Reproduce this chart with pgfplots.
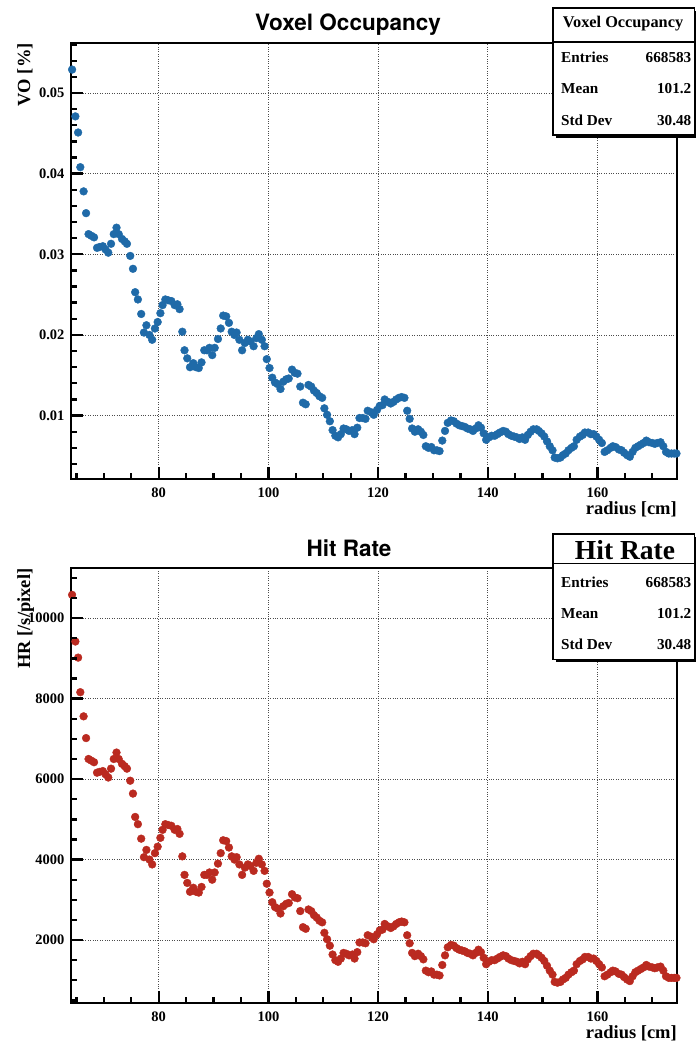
\documentclass[border=0pt]{standalone}
\usepackage{fontspec}
\setmainfont{Liberation Serif}
\newfontfamily\heros{TeX Gyre Heros}
\usepackage{pgfplots}
\usepackage{pgfplotstable}
\pgfplotsset{compat=1.18}
\definecolor{voblue}{RGB}{31,106,168}
\definecolor{hrred}{RGB}{186,42,32}

\pgfplotstableread{
x vo hr
64.2 0.0529 10580
64.8 0.0471 9420
65.3 0.0451 9020
65.7 0.0408 8160
66.3 0.0378 7560
66.75 0.0351 7020
67.2 0.0325 6500
67.7 0.0323 6460
68.2 0.0321 6420
68.75 0.0308 6160
69.2 0.0309 6180
69.8 0.0310 6200
70.3 0.0306 6120
70.8 0.0302 6040
71.3 0.0313 6260
71.8 0.0325 6500
72.3 0.0333 6660
72.7 0.0325 6500
73.3 0.0319 6380
73.8 0.0316 6320
74.2 0.0313 6260
74.8 0.0298 5960
75.3 0.0282 5640
75.7 0.0253 5060
76.2 0.0244 4880
76.8 0.0226 4520
77.3 0.0203 4060
77.75 0.0212 4240
78.3 0.0200 4000
78.8 0.0194 3880
79.3 0.0208 4160
79.8 0.0216 4320
80.3 0.0227 4540
80.7 0.0237 4740
81.2 0.0244 4880
81.7 0.0243 4860
82.3 0.0242 4840
82.9 0.0237 4740
83.4 0.0238 4760
83.8 0.0232 4640
84.3 0.0204 4080
84.7 0.0181 3620
85.2 0.0171 3420
85.7 0.0160 3200
86.3 0.0165 3300
86.8 0.0160 3200
87.3 0.0159 3180
87.8 0.0166 3320
88.3 0.0181 3620
88.8 0.0181 3620
89.25 0.0184 3680
89.75 0.0175 3500
90.2 0.0184 3680
90.8 0.0195 3900
91.3 0.0208 4160
91.75 0.0224 4480
92.3 0.0223 4460
92.8 0.0215 4300
93.3 0.0204 4080
93.8 0.0200 4000
94.2 0.0203 4060
94.7 0.0194 3880
95.2 0.0181 3620
95.7 0.0190 3800
96.25 0.0194 3880
96.7 0.0192 3840
97.3 0.0186 3720
97.8 0.0196 3920
98.25 0.0201 4020
98.8 0.0194 3880
99.3 0.0186 3720
99.7 0.0170 3400
100.2 0.0159 3180
100.7 0.0147 2940
101.2 0.0141 2820
101.7 0.0139 2780
102.2 0.0133 2660
102.7 0.0142 2840
103.25 0.0145 2900
103.7 0.0146 2920
104.3 0.0157 3140
104.8 0.0153 3060
105.3 0.0152 3040
105.8 0.0136 2720
106.3 0.0116 2320
106.8 0.0114 2280
107.3 0.0138 2760
107.8 0.0136 2720
108.3 0.0131 2620
108.8 0.0128 2560
109.3 0.0124 2480
109.8 0.0122 2440
110.2 0.0109 2180
110.7 0.0101 2020
111.2 0.0093 1860
111.7 0.0082 1640
112.2 0.0075 1500
112.7 0.0073 1460
113.2 0.0077 1540
113.7 0.0084 1680
114.2 0.0083 1660
114.7 0.0081 1620
115.3 0.0082 1640
115.7 0.0077 1540
116.2 0.0085 1700
116.6 0.0097 1940
117.2 0.0097 1940
117.7 0.0096 1920
118.1 0.0106 2120
118.8 0.0104 2080
119.2 0.0101 2020
119.8 0.0107 2140
120.3 0.0112 2240
120.8 0.0113 2260
121.2 0.0120 2400
121.8 0.0117 2340
122.3 0.0115 2300
122.8 0.0117 2340
123.3 0.0120 2400
123.8 0.0122 2440
124.3 0.0123 2460
124.8 0.0122 2440
125.3 0.0106 2120
125.75 0.0096 1920
126.2 0.0084 1680
126.7 0.0080 1600
127.3 0.0083 1660
127.8 0.0080 1600
128.25 0.0076 1520
128.7 0.0062 1240
129.2 0.0060 1200
129.7 0.0061 1220
130.2 0.0057 1140
130.7 0.0057 1140
131.2 0.0056 1120
131.7 0.0069 1380
132.2 0.0081 1620
132.7 0.0091 1820
133.3 0.0094 1880
133.8 0.0093 1860
134.3 0.0090 1800
134.8 0.0088 1760
135.3 0.0087 1740
135.8 0.0086 1720
136.3 0.0084 1680
136.8 0.0083 1660
137.3 0.0081 1620
137.8 0.0084 1680
138.3 0.0088 1760
138.75 0.0085 1700
139.25 0.0078 1560
139.7 0.0070 1400
140.2 0.0073 1460
140.7 0.0075 1500
141.25 0.0075 1500
141.75 0.0077 1540
142.2 0.0079 1580
142.8 0.0081 1620
143.3 0.0080 1600
143.75 0.0077 1540
144.3 0.0075 1500
144.8 0.0074 1480
145.3 0.0073 1460
145.8 0.0071 1420
146.3 0.0073 1460
146.8 0.0070 1400
147.3 0.0076 1520
147.8 0.0080 1600
148.3 0.0083 1660
148.9 0.0083 1660
149.3 0.0081 1620
149.8 0.0078 1560
150.3 0.0074 1480
150.8 0.0068 1360
151.3 0.0062 1240
151.8 0.0057 1140
152.2 0.0048 960
152.7 0.0047 940
153.25 0.0048 960
153.7 0.0051 1020
154.2 0.0053 1060
154.7 0.0057 1140
155.25 0.0060 1200
155.7 0.0062 1240
156.2 0.0070 1400
156.8 0.0074 1480
157.3 0.0076 1520
157.7 0.0079 1580
158.3 0.0079 1580
158.8 0.0077 1540
159.3 0.0077 1540
159.8 0.0074 1480
160.3 0.0070 1400
160.8 0.0066 1320
161.3 0.0055 1100
161.8 0.0057 1140
162.4 0.0060 1200
162.8 0.0062 1240
163.3 0.0061 1220
163.9 0.0058 1160
164.4 0.0057 1140
164.85 0.0054 1080
165.4 0.0051 1020
165.9 0.0049 980
166.4 0.0055 1100
166.9 0.0060 1200
167.4 0.0062 1240
167.9 0.0064 1280
168.4 0.0066 1320
168.9 0.0069 1380
169.4 0.0067 1340
170.0 0.0066 1320
170.45 0.0065 1300
170.9 0.0066 1320
171.5 0.0067 1340
172.0 0.0062 1240
172.5 0.0055 1100
173.0 0.0053 1060
173.5 0.0053 1060
174.0 0.0053 1060
174.4 0.0053 1060
}\data

\pgfplotsset{rootstyle/.style={
  scale only axis, width=606pt,
  xmin=64, xmax=174.5,
  xtick={80,100,120,140,160}, xticklabels={80,100,120,140,160},
  minor xtick={65,70,75,85,90,95,105,110,115,125,130,135,145,150,155,165,170},
  xtick pos=bottom, ytick pos=left, tick align=inside,
  major tick length=12pt, minor tick length=6pt,
  every tick/.style={black, solid, line width=2.3pt},
  axis line style={line width=2.3pt},
  xmajorgrids, ymajorgrids,
  major grid style={dotted, black!70, line width=0.7pt},
  tick label style={font=\fontsize{14.5}{14.5}\selectfont\bfseries},
  xticklabel style={yshift=-5pt},
  yticklabel style={xshift=-3pt},
  every axis label/.append style={font=\fontsize{18.5}{18.5}\selectfont\bfseries},
  xlabel={radius [cm]},
  xlabel style={at={(axis description cs:1,0)}, anchor=north east, yshift=-22pt, inner sep=0pt},
  ylabel style={at={(axis description cs:-0.089,1)}, anchor=north east, inner sep=0pt},
  scaled ticks=false,
  clip=false,
}}

\begin{document}
\begin{tikzpicture}
\path (0,0) rectangle (696pt,1043pt);

% top panel
\begin{axis}[rootstyle,
  at={(71pt,564pt)}, anchor=south west, height=436pt,
  ymin=0.00214, ymax=0.0562,
  ytick={0.01,0.02,0.03,0.04,0.05}, yticklabels={0.01,0.02,0.03,0.04,0.05},
  minor ytick={0.004,0.006,0.008,0.012,0.014,0.016,0.018,0.022,0.024,0.026,0.028,0.032,0.034,0.036,0.038,0.042,0.044,0.046,0.048,0.052,0.054,0.056},
  ylabel={VO [\%]},
]
\addplot[only marks, mark=*, mark size=3.9pt, color=voblue] table[x=x,y=vo]{\data};
\end{axis}

% bottom panel
\begin{axis}[rootstyle,
  at={(71pt,39.7pt)}, anchor=south west, height=435pt,
  ymin=428, ymax=11240,
  ytick={2000,4000,6000,8000,10000}, yticklabels={2000,4000,6000,8000,10000},
  minor ytick={500,1000,1500,2500,3000,3500,4500,5000,5500,6500,7000,7500,8500,9000,9500,10500,11000},
  ylabel={HR [/s/pixel]},
]
\addplot[only marks, mark=*, mark size=3.9pt, color=hrred] table[x=x,y=hr]{\data};
\end{axis}

% axis tick marks drawn on top (decoration only)
\begin{scope}[line width=2.3pt, black]
\foreach \v in {80,100,120,140,160} {
  \draw ({71pt+(\v-64)*5.4842pt},564pt) -- ++(0pt,12pt);
  \draw ({71pt+(\v-64)*5.4842pt},39.7pt) -- ++(0pt,12pt);
}
\foreach \v in {65,70,75,85,90,95,105,110,115,125,130,135,145,150,155,165,170} {
  \draw ({71pt+(\v-64)*5.4842pt},564pt) -- ++(0pt,6pt);
  \draw ({71pt+(\v-64)*5.4842pt},39.7pt) -- ++(0pt,6pt);
}
\foreach \v in {0.01,0.02,0.03,0.04,0.05} {
  \draw (71pt,{564pt+(\v-0.00214)*8065.1pt}) -- ++(12pt,0pt);
}
\foreach \v in {0.004,0.006,0.008,0.012,0.014,0.016,0.018,0.022,0.024,0.026,0.028,0.032,0.034,0.036,0.038,0.042,0.044,0.046,0.048,0.052,0.054,0.056} {
  \draw (71pt,{564pt+(\v-0.00214)*8065.1pt}) -- ++(6pt,0pt);
}
\foreach \v in {2000,4000,6000,8000,10000} {
  \draw (71pt,{39.7pt+(\v-428)*0.040233pt}) -- ++(12pt,0pt);
}
\foreach \v in {500,1000,1500,2500,3000,3500,4500,5000,5500,6500,7000,7500,8500,9000,9500,10500,11000} {
  \draw (71pt,{39.7pt+(\v-428)*0.040233pt}) -- ++(6pt,0pt);
}
\end{scope}

% titles
\node[font=\heros\bfseries\fontsize{22.5}{22.5}\selectfont, anchor=base] at (348pt,1012pt) {Voxel Occupancy};
\node[font=\heros\bfseries\fontsize{22.5}{22.5}\selectfont, anchor=base] at (349pt,486pt) {Hit Rate};

% stats box top
\fill[black] (556pt,905pt) rectangle (695.9pt,1032pt);
\draw[line width=1.6pt, fill=white] (553pt,908pt) rectangle (694.5pt,1035pt);
\draw[line width=1.6pt] (553pt,1001pt) -- (694.5pt,1001pt);
\node[font=\bfseries\fontsize{16.3}{16.3}\selectfont, anchor=base] at (623pt,1015pt) {Voxel Occupancy};
\begin{scope}[every node/.style={font=\bfseries\fontsize{15.2}{15.2}\selectfont, inner sep=0pt}]
\node[anchor=base west] at (561pt,980pt) {Entries};
\node[anchor=base east] at (691.5pt,980pt) {668583};
\node[anchor=base west] at (561pt,949.5pt) {Mean};
\node[anchor=base east] at (691.5pt,949.5pt) {101.2};
\node[anchor=base west] at (561pt,917pt) {Std Dev};
\node[anchor=base east] at (691.5pt,917pt) {30.48};
\end{scope}

% stats box bottom
\fill[black] (556pt,380.5pt) rectangle (695.9pt,506pt);
\draw[line width=1.6pt, fill=white] (553pt,383.5pt) rectangle (694.5pt,509pt);
\draw[line width=1.6pt] (553pt,479.5pt) -- (694.5pt,479.5pt);
\node[font=\bfseries\fontsize{27.5}{27.5}\selectfont, anchor=base] at (625pt,483pt) {Hit Rate};
\begin{scope}[every node/.style={font=\bfseries\fontsize{15.2}{15.2}\selectfont, inner sep=0pt}]
\node[anchor=base west] at (561pt,455pt) {Entries};
\node[anchor=base east] at (691.5pt,455pt) {668583};
\node[anchor=base west] at (561pt,424pt) {Mean};
\node[anchor=base east] at (691.5pt,424pt) {101.2};
\node[anchor=base west] at (561pt,393pt) {Std Dev};
\node[anchor=base east] at (691.5pt,393pt) {30.48};
\end{scope}
\end{tikzpicture}
\end{document}
